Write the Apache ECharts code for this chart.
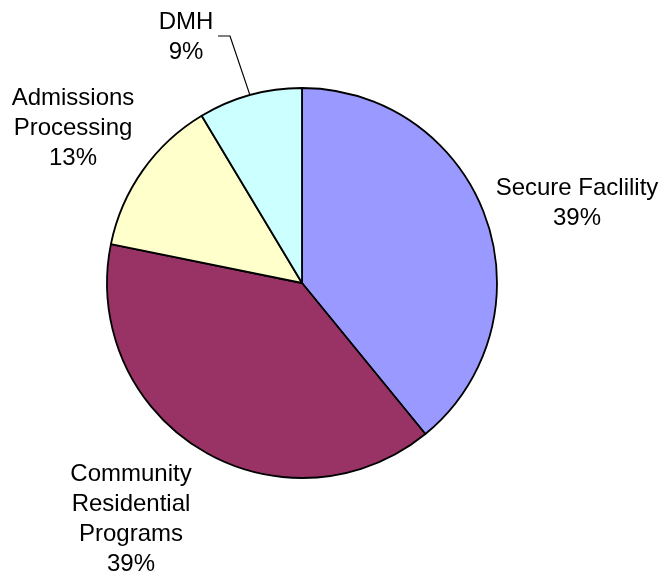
<!DOCTYPE html>
<html>
<head>
<meta charset="utf-8">
<script src="https://cdn.jsdelivr.net/npm/echarts@6/dist/echarts.min.js"></script>
<style>
  html, body { margin: 0; padding: 0; background: #ffffff; }
  #chart { width: 665px; height: 576px; }
</style>
</head>
<body>
<div id="chart"></div>
<script>
// Slice names (line breaks as shown on the labels), shares and fill colours
const categories = ['Secure Faclility', 'Community\nResidential\nPrograms', 'Admissions\nProcessing', 'DMH'];
const shares = [39.1, 39.1, 13.2, 8.6];
const colors = ['#9999FF', '#993366', '#FFFFCC', '#CCFFFF'];

// Where each label block sits (centre of the text block)
const labelSpots = [
  { x: 577, y: 203 },
  { x: 131, y: 519 },
  { x: 73, y: 128 },
  { x: 186, y: 37 }
];

const chart = echarts.init(document.getElementById('chart'), null, { renderer: 'canvas' });

const data = categories.map((name, i) => ({
  name: name,
  value: shares[i],
  itemStyle: { color: colors[i] },
  labelLine: { show: i === 3 }
}));

chart.setOption({
  animation: false,
  backgroundColor: '#ffffff',
  series: [{
    type: 'pie',
    center: [302, 283],
    radius: [0, 195],
    startAngle: 90,
    clockwise: true,
    percentPrecision: 0,
    avoidLabelOverlap: false,
    data: data,
    itemStyle: { borderColor: '#000000', borderWidth: 1.8 },
    emphasis: { disabled: true },
    label: {
      show: true,
      position: 'outside',
      formatter: '{b}\n{d}%',
      color: '#000000',
      fontFamily: '"Liberation Sans", Arial, sans-serif',
      fontSize: 24,
      lineHeight: 30,
      align: 'center'
    },
    labelLine: {
      show: false,
      lineStyle: { color: '#000000', width: 1.2 }
    },
    labelLayout: function (params) {
      const spot = labelSpots[params.dataIndex];
      const out = { x: spot.x, y: spot.y, align: 'center', verticalAlign: 'middle' };
      if (params.dataIndex === 3 && params.labelLinePoints) {
        const start = params.labelLinePoints[0];
        out.labelLinePoints = [start, [230, 36], [218, 36]];
      }
      return out;
    }
  }]
});
</script>
</body>
</html>
